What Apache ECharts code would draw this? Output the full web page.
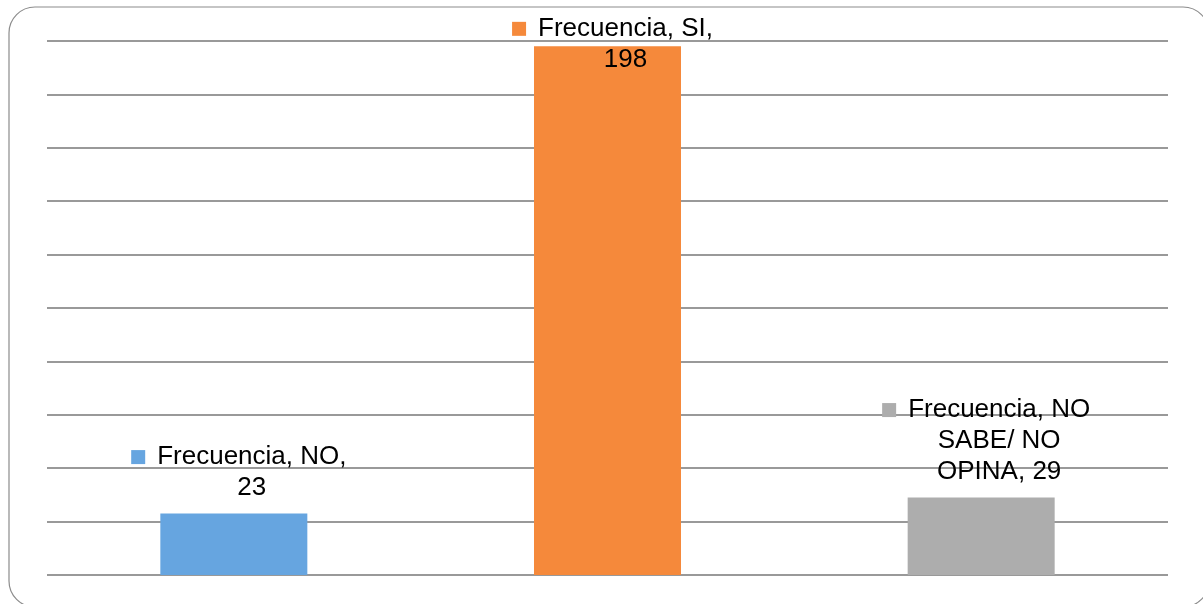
<!DOCTYPE html>
<html>
<head>
<meta charset="utf-8">
<script src="https://cdn.jsdelivr.net/npm/echarts@6/dist/echarts.min.js"></script>
<style>
  html, body { margin: 0; padding: 0; background: #fff; }
  #main { width: 1203px; height: 604px; }
</style>
</head>
<body>
<div id="main"></div>
<script>
  // datos del gráfico
  var seriesName = 'Frecuencia';
  var categories = ['NO', 'SI', 'NO SABE/ NO OPINA'];
  var values = [23, 198, 29];
  var colors = ['#66A5E0', '#F5893B', '#ADADAD'];
  // etiquetas tal como aparecen partidas en líneas ({v} = valor)
  var labelLines = [
    ['Frecuencia, NO,', '{v}'],
    ['Frecuencia, SI,', '{v}'],
    ['Frecuencia, NO', 'SABE/ NO', 'OPINA, {v}']
  ];
  var yTicks = { min: 0, max: 200, interval: 20 };

  var chartDom = document.getElementById('main');
  var myChart = echarts.init(chartDom);

  var rich = {
    t: { fontSize: 26, lineHeight: 31, color: '#000', align: 'center' },
    g: { width: 12, height: 14, lineHeight: 31 },
    s: { width: 26, height: 14, lineHeight: 31 }
  };
  colors.forEach(function (c, i) {
    rich['m' + i] = { width: 14, height: 14, lineHeight: 31, backgroundColor: c };
  });

  var barData = values.map(function (v, i) {
    var item = { value: v, itemStyle: { color: colors[i] } };
    if (i === 1) {
      // la barra más alta lleva la etiqueta dentro
      item.label = { offset: [18, 39] };
    }
    return item;
  });

  function buildLabel(params) {
    var i = params.dataIndex;
    return labelLines[i].map(function (line, k) {
      var txt = line.replace('{v}', values[i]);
      if (k === 0) {
        return '{m' + i + '|}{g|}{t|' + txt + '}{s|}';
      }
      return '{t|' + txt + '}';
    }).join('\n');
  }

  var option = {
    animation: false,
    graphic: [{
      type: 'rect',
      shape: { x: 9, y: 7, width: 1200, height: 600, r: 26 },
      style: { fill: 'none', stroke: '#8c8c8c', lineWidth: 1.2 },
      z: 0
    }],
    grid: {
      left: 47,
      right: 35,
      top: 41,
      bottom: 29
    },
    xAxis: {
      type: 'category',
      data: categories,
      axisLine: { show: false },
      axisTick: { show: false },
      axisLabel: { show: false }
    },
    yAxis: {
      type: 'value',
      min: yTicks.min,
      max: yTicks.max,
      interval: yTicks.interval,
      axisLine: { show: false },
      axisTick: { show: false },
      axisLabel: { show: false },
      splitLine: { lineStyle: { color: '#999999', width: 2 } }
    },
    series: [{
      name: seriesName,
      type: 'bar',
      barWidth: 147,
      data: barData,
      label: {
        show: true,
        position: 'top',
        distance: 10,
        offset: [18, 0],
        fontFamily: 'Liberation Sans, Arial, sans-serif',
        fontSize: 26,
        lineHeight: 31,
        color: '#000',
        align: 'center',
        formatter: buildLabel,
        rich: rich
      }
    }],
    textStyle: { fontFamily: 'Liberation Sans, Arial, sans-serif' }
  };

  myChart.setOption(option);
  window.addEventListener('resize', () => myChart.resize());
</script>
</body>
</html>
